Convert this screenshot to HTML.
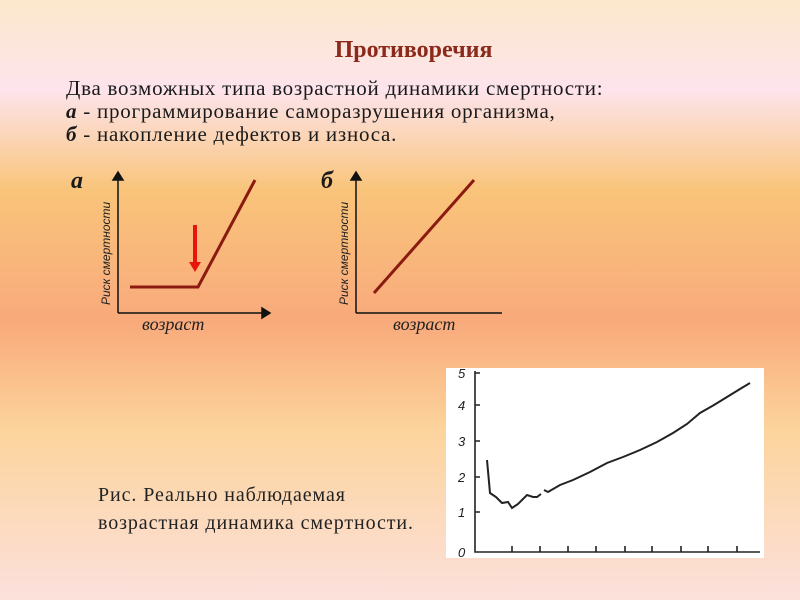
<!DOCTYPE html>
<html><head><meta charset="utf-8"><style>
body{margin:0;width:800px;height:600px;overflow:hidden;position:relative;
background:linear-gradient(to bottom,#fbe8cc 0px,#fde4ec 90px,#f9c47a 190px,#f9ae7c 300px,#f9a97a 320px,#fcd49c 430px,#fce0dc 600px);
font-family:"Liberation Serif",serif;}
.t{position:absolute;color:#222;white-space:nowrap;}
</style></head><body>
<div class="t" style="left:0;width:800px;top:37px;text-align:center;font-size:24px;font-weight:bold;color:#8b2a1a;padding-left:27px;box-sizing:border-box">Противоречия</div>
<div class="t" style="left:66px;top:77px;font-size:21px;letter-spacing:0.75px;line-height:23px;color:#1a1a1a">Два возможных типа возрастной динамики смертности:<br><b><i>а</i></b> - программирование саморазрушения организма,<br><b><i>б</i></b> - накопление дефектов и износа.</div>
<svg width="800" height="600" style="position:absolute;left:0;top:0">
<g font-family="Liberation Serif" font-weight="bold" font-style="italic" font-size="24" fill="#1a1a1a">
<text x="71" y="188">а</text><text x="321" y="188">б</text></g>
<g stroke="#111" stroke-width="1.5" fill="none">
<path d="M118 313V175M118 313H264"/><path d="M113 180L118 172L123 180Z M262 308L270 313L262 318Z" fill="#111"/>
<path d="M356 313V175M356 313H502"/><path d="M351 180L356 172L361 180Z" fill="#111"/>
</g>
<g stroke="#8b1a10" stroke-width="3" fill="none">
<path d="M130 287H198L255 180"/><path d="M374 293L474 180"/></g>
<path d="M195 225V262" stroke="#e8150e" stroke-width="4"/><path d="M189 262L195 272L201 262Z" fill="#e8150e"/>
<g font-family="Liberation Sans" font-style="italic" font-size="12" fill="#222">
<text transform="translate(110,305) rotate(-90)">Риск смертности</text>
<text transform="translate(348,305) rotate(-90)">Риск смертности</text></g>
<g font-family="Liberation Serif" font-style="italic" font-size="18" fill="#222">
<text x="142" y="330">возраст</text><text x="393" y="330">возраст</text></g>
<rect x="446" y="368" width="318" height="190" fill="#fff"/>
<g stroke="#222" stroke-width="1.6" fill="none">
<path d="M475 371V552H760"/>
<path d="M475 512h5M475 477h5M475 441h5M475 405h5M475 373h5"/>
<path d="M512 552v-6M540 552v-6M568 552v-6M596 552v-6M625 552v-6M652 552v-6M681 552v-6M708 552v-6M737 552v-6"/>
<path stroke-width="2" d="M487 460L490 493L496 497L502 503L508 502L512 508L518 504L527 495L533 497L537 497L541 494M544 490L548 492L560 485L573 480L590 472L607 463L623 457L640 450L657 442L673 433L687 424L700 413L714 405L727 397L740 389L750 383"/>
</g>
<g font-family="Liberation Sans" font-style="italic" font-size="13" fill="#222">
<text x="458" y="557">0</text><text x="458" y="517">1</text><text x="458" y="482">2</text><text x="458" y="446">3</text><text x="458" y="410">4</text><text x="458" y="378">5</text></g>
</svg>
<div class="t" style="left:98px;top:481px;font-size:20px;letter-spacing:0.9px;line-height:28px">Рис. Реально наблюдаемая<br>возрастная динамика смертности.</div>
</body></html>
